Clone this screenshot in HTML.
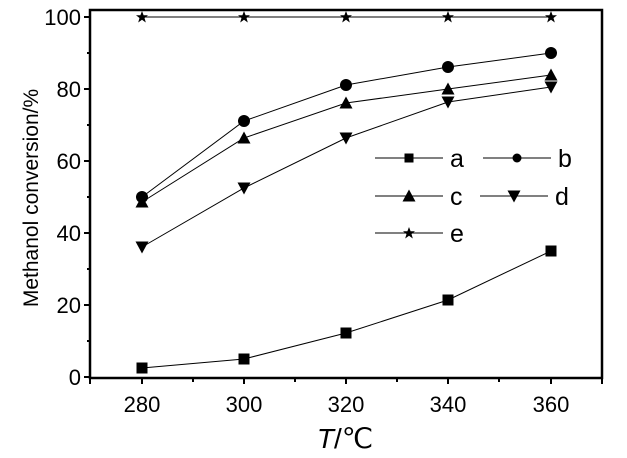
<!DOCTYPE html>
<html><head><meta charset="utf-8"><style>body{margin:0;background:#fff}svg{display:block}</style></head><body>
<svg width="627" height="458" xmlns="http://www.w3.org/2000/svg" font-family="Liberation Sans, Arial, sans-serif">
<rect x="90" y="10" width="512" height="368" fill="none" stroke="#000" stroke-width="2.5"/>
<g stroke="#000" stroke-width="2">
<line x1="84" y1="377" x2="90" y2="377"/><line x1="84" y1="305" x2="90" y2="305"/><line x1="84" y1="233" x2="90" y2="233"/><line x1="84" y1="161" x2="90" y2="161"/><line x1="84" y1="89" x2="90" y2="89"/><line x1="84" y1="17" x2="90" y2="17"/>
<line x1="87" y1="341" x2="90" y2="341"/><line x1="87" y1="269" x2="90" y2="269"/><line x1="87" y1="197" x2="90" y2="197"/><line x1="87" y1="125" x2="90" y2="125"/><line x1="87" y1="53" x2="90" y2="53"/>
<line x1="142" y1="378" x2="142" y2="384"/><line x1="244" y1="378" x2="244" y2="384"/><line x1="346" y1="378" x2="346" y2="384"/><line x1="448" y1="378" x2="448" y2="384"/><line x1="551" y1="378" x2="551" y2="384"/>
<line x1="90" y1="378" x2="90" y2="384"/><line x1="193" y1="378" x2="193" y2="382"/><line x1="295" y1="378" x2="295" y2="382"/><line x1="397" y1="378" x2="397" y2="382"/><line x1="499" y1="378" x2="499" y2="382"/><line x1="602" y1="378" x2="602" y2="384"/>
</g>
<g font-size="22" text-anchor="end">
<text x="81" y="385">0</text><text x="81" y="313">20</text><text x="81" y="241">40</text><text x="81" y="169">60</text><text x="81" y="97">80</text><text x="81" y="25">100</text>
</g>
<g font-size="22" text-anchor="middle">
<text x="142" y="412">280</text><text x="244" y="412">300</text><text x="346" y="412">320</text><text x="448" y="412">340</text><text x="551" y="412">360</text>
</g>
<text x="345" y="448" font-size="28" text-anchor="middle"><tspan font-style="italic">T</tspan>/℃</text>
<text transform="translate(38,198) rotate(-90)" font-size="21" text-anchor="middle">Methanol conversion/%</text>
<defs>
<rect id="sq" x="-5.5" y="-5.5" width="11" height="11"/>
<circle id="ci" r="6"/>
<path id="tu" d="M0,-6.5 L6.5,5.5 L-6.5,5.5Z"/>
<path id="td" d="M0,6.5 L6.5,-5.5 L-6.5,-5.5Z"/>
<path id="st" d="M0,-6 L1.6,-1.8 L6,-1.8 L2.5,1 L3.8,5.5 L0,2.8 L-3.8,5.5 L-2.5,1 L-6,-1.8 L-1.6,-1.8Z"/>
</defs>
<g fill="none" stroke="#000" stroke-width="1">
<polyline points="142,368 244,359 346,333 448,300 551,251"/>
<polyline points="142,197 244,121 346,85 448,67 551,53"/>
<polyline points="142,202 244,138 346,103 448,89 551,75"/>
<polyline points="142,247 244,188 346,138 448,102 551,87"/>
<polyline points="142,17 551,17"/>
<line x1="375" y1="158" x2="443" y2="158"/><line x1="483" y1="158" x2="551" y2="158"/>
<line x1="375" y1="196" x2="443" y2="196"/><line x1="480" y1="196" x2="548" y2="196"/>
<line x1="375" y1="233" x2="443" y2="233"/>
</g>
<g fill="#000">
<use href="#sq" x="142" y="368"/><use href="#sq" x="244" y="359"/><use href="#sq" x="346" y="333"/><use href="#sq" x="448" y="300"/><use href="#sq" x="551" y="251"/>
<use href="#ci" x="142" y="197"/><use href="#ci" x="244" y="121"/><use href="#ci" x="346" y="85"/><use href="#ci" x="448" y="67"/><use href="#ci" x="551" y="53"/>
<use href="#tu" x="142" y="202"/><use href="#tu" x="244" y="138"/><use href="#tu" x="346" y="103"/><use href="#tu" x="448" y="89"/><use href="#tu" x="551" y="75"/>
<use href="#td" x="142" y="247"/><use href="#td" x="244" y="188"/><use href="#td" x="346" y="138"/><use href="#td" x="448" y="102"/><use href="#td" x="551" y="87"/>
<use href="#st" x="142" y="17"/><use href="#st" x="244" y="17"/><use href="#st" x="346" y="17"/><use href="#st" x="448" y="17"/><use href="#st" x="551" y="17"/>
<rect x="404.5" y="153.5" width="9" height="9"/>
<circle cx="517" cy="158" r="4.5"/>
<use href="#tu" x="409" y="196"/>
<use href="#td" x="514" y="196"/>
<use href="#st" x="409" y="233"/>
</g>
<g font-size="25">
<text x="450" y="167">a</text><text x="558" y="167">b</text>
<text x="450" y="205">c</text><text x="555" y="205">d</text>
<text x="450" y="242">e</text>
</g>
</svg>
</body></html>
